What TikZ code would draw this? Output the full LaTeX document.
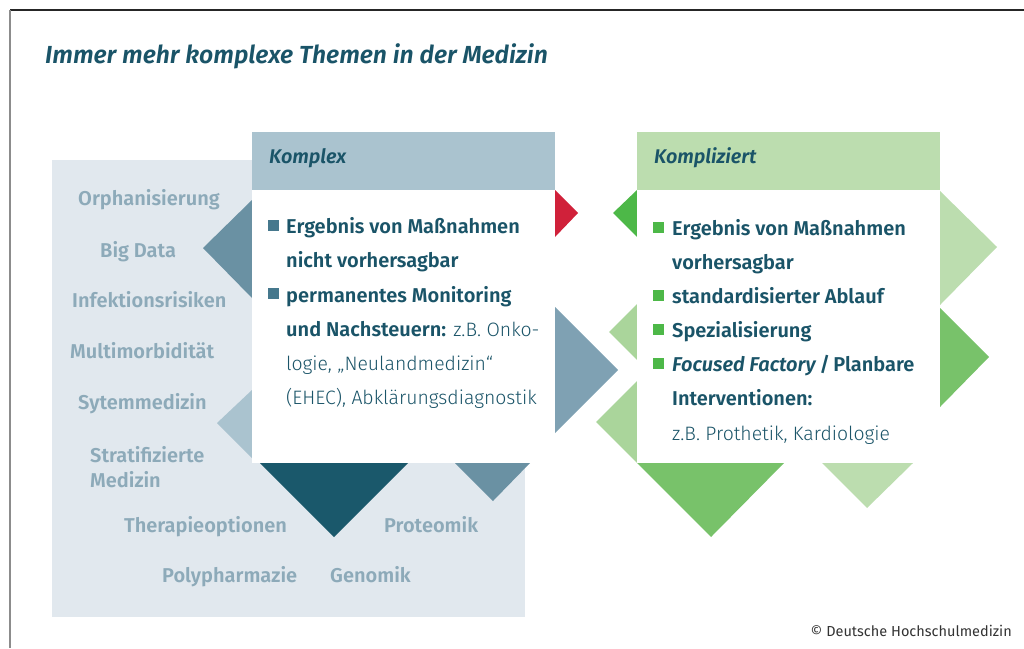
\documentclass[tikz,border=0pt]{standalone}
\usepackage{fontspec}
\setmainfont{Fira Sans}[BoldFont={Fira Sans SemiBold},BoldItalicFont={Fira Sans SemiBold Italic}]
\newfontfamily\lightfont{Fira Sans Light}
\definecolor{ink}{HTML}{1A5468}
\definecolor{bgblue}{HTML}{E1E8EE}
\definecolor{headblue}{HTML}{AAC3CF}
\definecolor{steel}{HTML}{6A91A3}
\definecolor{steellight}{HTML}{7FA1B3}
\definecolor{deepteal}{HTML}{1A586B}
\definecolor{alertred}{HTML}{D0213A}
\definecolor{mutedlbl}{HTML}{8DAAB9}
\definecolor{bulletblue}{HTML}{46788D}
\definecolor{headgreen}{HTML}{BCDDAF}
\definecolor{darkgreen}{HTML}{4DB848}
\definecolor{midgreen}{HTML}{78C26A}
\definecolor{lightgreen}{HTML}{AAD59B}
\definecolor{copygrey}{HTML}{333333}
\tikzset{
  txt/.style={inner sep=0pt, anchor=base west, text=ink, font=\fontsize{20}{24}\selectfont},
  boldtxt/.style={txt, font=\fontsize{20}{24}\selectfont\bfseries},
  lighttxt/.style={txt, font=\fontsize{19.4}{24}\lightfont},
  lbl/.style={inner sep=0pt, anchor=base west, text=mutedlbl, font=\fontsize{20}{24}\selectfont\bfseries},
  headtxt/.style={inner sep=0pt, anchor=base west, text=ink, font=\fontsize{19.8}{22}\selectfont\bfseries\itshape},
  panel/.style={inner sep=0pt, outer sep=0pt, minimum width=303pt, anchor=north west},
}
\begin{document}
\begin{tikzpicture}[x=1pt,y=-1pt]
\useasboundingbox (0,0) rectangle (1024,648);
% frame lines
\draw[line width=1.2pt, color=black!85] (10,10) -- (1024,10);
\draw[line width=1.2pt, color=black!45] (10,10) -- (10,648);
% title
\node[inner sep=0pt, anchor=base west, text=ink, font=\fontsize{24.7}{28}\selectfont\bfseries\itshape] (title) at (45,63) {Immer mehr komplexe Themen in der Medizin};
% background field of topics
\fill[bgblue] (52,160) rectangle (525,617);
% triangles around the "Komplex" panel
\fill[steel] (252,200) -- (203,248) -- (252,298) -- cycle;
\fill[headblue] (252,390) -- (217,423) -- (252,458) -- cycle;
\fill[deepteal] (260,463) -- (408,463) -- (334,537) -- cycle;
\fill[steel] (455,463) -- (530,463) -- (493,501) -- cycle;
\fill[alertred] (555,190) -- (578,213) -- (555,237) -- cycle;
\fill[steellight] (555,307) -- (618,370) -- (555,433) -- cycle;
% triangles around the "Kompliziert" panel
\fill[darkgreen] (637,190) -- (613,213) -- (637,237) -- cycle;
\fill[lightgreen] (637,304) -- (609,332) -- (637,360) -- cycle;
\fill[lightgreen] (637,381) -- (596,422) -- (637,463) -- cycle;
\fill[headgreen] (940,191) -- (997,247) -- (940,305) -- cycle;
\fill[midgreen] (940,308) -- (989,357) -- (940,407) -- cycle;
\fill[midgreen] (637,463) -- (784,463) -- (711,537) -- cycle;
\fill[headgreen] (822,463) -- (913,463) -- (867,508) -- cycle;
% panels
\node[panel, fill=headblue, minimum height=58pt] (khead) at (252,132) {};
\node[panel, fill=white, minimum height=273pt] (kbody) at (252,190) {};
\node[panel, fill=headgreen, minimum height=58pt] (chead) at (637,132) {};
\node[panel, fill=white, minimum height=273pt] (cbody) at (637,190) {};
\node[headtxt] (ktitle) at (269,163) {Komplex};
\node[headtxt] (ctitle) at (654,163) {Kompliziert};
% topic labels
\node[lbl] (t1) at (78,205) {Orphanisierung};
\node[lbl] (t2) at (100,257) {Big Data};
\node[lbl] (t3) at (72,307) {Infektionsrisiken};
\node[lbl] (t4) at (70,358) {Multimorbidität};
\node[lbl] (t5) at (78,409) {Sytemmedizin};
\node[lbl] (t6) at (90,462) {Stratifizierte};
\node[lbl] (t7) at (90,487) {Medizin};
\node[lbl] (t8) at (124,532) {Therapieoptionen};
\node[lbl] (t9) at (384,532) {Proteomik};
\node[lbl] (t10) at (162,582) {Polypharmazie};
\node[lbl] (t11) at (330,582) {Genomik};
% "Komplex" bullet list
\fill[bulletblue] (268,220) rectangle (279,231);
\fill[bulletblue] (268,288) rectangle (279,299);
\node[boldtxt] (k1) at (286,233) {Ergebnis von Maßnahmen};
\node[boldtxt] (k2) at (286,267) {nicht vorhersagbar};
\node[boldtxt] (k3) at (286,302) {permanentes Monitoring};
\node[txt] (k4) at (286,336) {\textbf{und Nachsteuern:} {\fontsize{19.4}{24}\lightfont z.B. Onko-}};
\node[lighttxt] (k5) at (286,370) {logie, „Neulandmedizin“};
\node[lighttxt] (k6) at (286,404) {(EHEC), Abklärungsdiagnostik};
% "Kompliziert" bullet list
\fill[darkgreen] (653,222) rectangle (664,233);
\fill[darkgreen] (653,290) rectangle (664,301);
\fill[darkgreen] (653,324) rectangle (664,335);
\fill[darkgreen] (653,358) rectangle (664,369);
\node[boldtxt] (c1) at (672,235) {Ergebnis von Maßnahmen};
\node[boldtxt] (c2) at (672,269) {vorhersagbar};
\node[boldtxt] (c3) at (672,303) {standardisierter Ablauf};
\node[boldtxt] (c4) at (672,337) {Spezialisierung};
\node[boldtxt] (c5) at (672,371) {\textit{Focused Factory}\,/\,Planbare};
\node[boldtxt] (c6) at (672,405) {Interventionen:};
\node[lighttxt] (c7) at (672,440) {z.B. Prothetik, Kardiologie};
% credit
\node[inner sep=0pt, anchor=base east, text=copygrey, font=\fontsize{14.5}{16}\selectfont] (credit) at (1012,636) {© Deutsche Hochschulmedizin};
\end{tikzpicture}
\end{document}
